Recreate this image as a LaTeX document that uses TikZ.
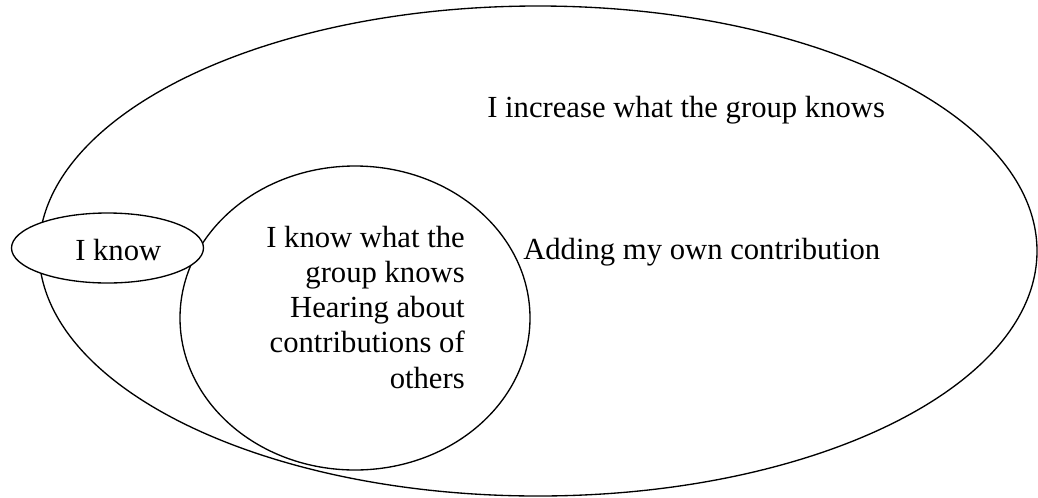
\documentclass[tikz,border=0pt]{standalone}
\usepackage{fontspec}
\setmainfont{Liberation Serif}
\usetikzlibrary{shapes.geometric}
\begin{document}
\begin{tikzpicture}[x=0.75pt,y=-0.75pt,
  ring/.style={draw=black, line width=1pt, shape=ellipse, inner sep=0pt},
  lbl/.style={inner sep=0pt, font=\fontsize{23}{26.4}\selectfont}]
\useasboundingbox (0,0) rectangle (1038,497);
% the three nested regions
\node[ring, minimum width=748.5pt, minimum height=367.5pt] (group) at (538,251) {};
\node[ring, minimum width=262.5pt, minimum height=228pt] (shared) at (355,318) {};
\node[ring, fill=white, minimum width=144pt, minimum height=52.5pt] (self) at (107.5,248) {};
% labels (a multi-line node's base is its last line)
\node[lbl, anchor=base west] (selftxt) at (75,260) {I know};
\node[lbl, anchor=base east, align=right] (sharedtxt) at (465,388)
  {I know what the\\group knows\\Hearing about\\contributions of\\others};
\node[lbl, anchor=base west] (grouptxt) at (487,117) {I increase what the group knows};
\node[lbl, anchor=base west] (addtxt) at (523,259) {Adding my own contribution};
\end{tikzpicture}
\end{document}
